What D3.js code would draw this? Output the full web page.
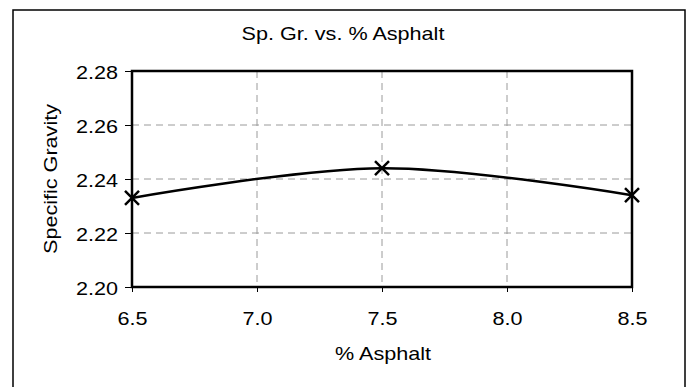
<!DOCTYPE html>
<html><head><meta charset="utf-8">
<script src="https://cdn.jsdelivr.net/npm/d3@7"></script>
<style>body{margin:0;background:#fff}svg{display:block}text{font-family:"Liberation Sans",Arial,sans-serif;fill:#000}</style>
</head><body>
<script>
const asphalt = [6.5, 7.5, 8.5];
const specificGravity = [2.233, 2.244, 2.234];
const xTicks = [6.5, 7.0, 7.5, 8.0, 8.5];
const yTicks = [2.20, 2.22, 2.24, 2.26, 2.28];
const title = "Sp. Gr. vs. % Asphalt";
const xTitle = "% Asphalt";
const yTitle = "Specific Gravity";

const W = 689, H = 387;
const FS = 18, SX = 1.2; // font size and horizontal stretch of the lettering
const svg = d3.select("body").append("svg").attr("width", W).attr("height", H);
svg.append("rect").attr("x", 13).attr("y", 10).attr("width", 672).attr("height", 400)
  .attr("fill", "#fff").attr("stroke", "#000").attr("stroke-width", 1.5);

const L = 132, R = 632, T = 71, B = 287;
const x = d3.scaleLinear().domain([6.5, 8.5]).range([L, R]);
const y = d3.scaleLinear().domain([2.20, 2.28]).range([B, T]);

function label(g, px, py, txt, anchor, rot) {
  const t = g.append("g").attr("transform", `translate(${px},${py})` + (rot ? ` rotate(${rot})` : "") + ` scale(${SX},1)`);
  t.append("text").attr("text-anchor", anchor).attr("font-size", FS).text(txt);
  return t;
}

// grid
svg.append("g").selectAll("line").data(xTicks.slice(1, -1)).join("line")
  .attr("x1", d => x(d)).attr("x2", d => x(d)).attr("y1", T).attr("y2", B)
  .attr("stroke", "#9a9a9a").attr("stroke-dasharray", "7,5").attr("stroke-width", 1);
svg.append("g").selectAll("line").data(yTicks.slice(1, -1)).join("line")
  .attr("y1", d => y(d)).attr("y2", d => y(d)).attr("x1", L).attr("x2", R)
  .attr("stroke", "#9a9a9a").attr("stroke-dasharray", "7,5").attr("stroke-width", 1);

// axes (ticks through d3 axes, labels redrawn with stretch)
const xAxis = d3.axisBottom(x).tickValues(xTicks).tickFormat("").tickSize(5);
const gx = svg.append("g").attr("transform", `translate(0,${B})`).call(xAxis);
const yAxis = d3.axisLeft(y).tickValues(yTicks).tickFormat("").tickSize(7);
const gy = svg.append("g").attr("transform", `translate(${L},0)`).call(yAxis);
[gx, gy].forEach(g => {
  g.select(".domain").remove();
  g.selectAll(".tick line").attr("stroke", "#000").attr("stroke-width", 1);
});
gx.selectAll(".tick").each(function (d) {
  label(d3.select(this), 0, 38, d3.format(".1f")(d), "middle");
});
gy.selectAll(".tick").each(function (d) {
  label(d3.select(this), -14, 7, d3.format(".2f")(d), "end");
});

// plot border
svg.append("rect").attr("x", L).attr("y", T).attr("width", R - L).attr("height", B - T)
  .attr("fill", "none").attr("stroke", "#000").attr("stroke-width", 2.5);

// line
const pts = asphalt.map((a, i) => [a, specificGravity[i]]);
svg.append("path").datum(pts)
  .attr("d", d3.line().x(d => x(d[0])).y(d => y(d[1])).curve(d3.curveCardinal.tension(0)))
  .attr("fill", "none").attr("stroke", "#000").attr("stroke-width", 2.5);

// markers
const s = 7;
const mk = svg.append("g").selectAll("g").data(pts).join("g")
  .attr("transform", d => `translate(${x(d[0])},${y(d[1])})`);
mk.append("path").attr("d", `M${-s},${-s}L${s},${s}M${-s},${s}L${s},${-s}`)
  .attr("stroke", "#000").attr("stroke-width", 2.5);

// titles
label(svg, 343, 40, title, "middle");
label(svg, 383, 360, xTitle, "middle");
label(svg, 57, (T + B) / 2, yTitle, "middle", -90);
</script>
</body></html>
